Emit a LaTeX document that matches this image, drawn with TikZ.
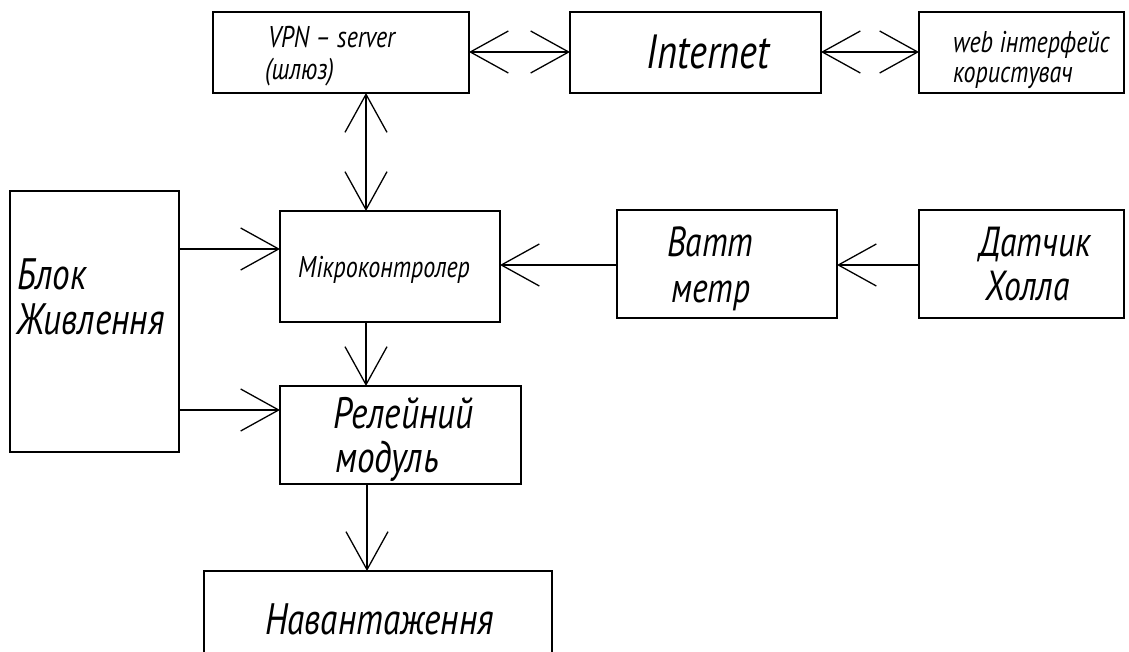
\documentclass[tikz,border=0pt]{standalone}
\usepackage{fontspec}
\newfontfamily\gost{PT Sans}[FakeStretch=0.8]
\usetikzlibrary{arrows.meta}
\begin{document}
\begin{tikzpicture}[x=1pt,y=-1pt,
  blk/.style={draw, line width=1.3pt, inner sep=0pt, outer sep=0pt, anchor=north west},
  lbl/.style={inner sep=0pt, anchor=base west, font=\gost\itshape},
  barb/.tip={Straight Barb[length=38pt,width=42pt,line width=1.3pt]},
  link/.style={line width=1.3pt, -barb},
  dlink/.style={line width=1.3pt, barb-barb}]
\useasboundingbox (0,0) rectangle (1129,652);
\clip (0,0) rectangle (1129,652);
\fill[white] (0,0) rectangle (1129,652);

% blocks
\node[blk, minimum width=256pt, minimum height=81pt]  (vpn)   at (213,12)  {};
\node[blk, minimum width=251pt, minimum height=81pt]  (inet)  at (570,12)  {};
\node[blk, minimum width=205pt, minimum height=81pt]  (web)   at (919,12)  {};
\node[blk, minimum width=169pt, minimum height=261pt] (power) at (10,191)  {};
\node[blk, minimum width=220pt, minimum height=111pt] (mcu)   at (280,211) {};
\node[blk, minimum width=220pt, minimum height=108pt] (watt)  at (617,210) {};
\node[blk, minimum width=205pt, minimum height=108pt] (hall)  at (919,210) {};
\node[blk, minimum width=241pt, minimum height=98pt]  (relay) at (280,386) {};
\node[blk, minimum width=348pt, minimum height=95pt]  (load)  at (204,571) {};

% labels
\node[lbl, font=\gost\itshape\fontsize{30}{31}\selectfont] (tvpn1) at (268,48) {VPN – server};
\node[lbl, font=\gost\itshape\fontsize{30}{31}\selectfont] (tvpn2) at (265,80) {(шлюз)};
\node[lbl, anchor=base, font=\gost\itshape\fontsize{48}{50}\selectfont] (tinet) at (708,69) {Internet};
\node[lbl, font=\gost\itshape\fontsize{30}{31}\selectfont] (tweb1) at (953,53) {web інтерфейс};
\node[lbl, font=\gost\itshape\fontsize{30}{31}\selectfont] (tweb2) at (953,83) {користувач};
\node[lbl, font=\gost\itshape\fontsize{44}{46}\selectfont] (tpow1) at (17,290) {Блок};
\node[lbl, font=\gost\itshape\fontsize{44}{46}\selectfont] (tpow2) at (17,334) {Живлення};
\node[lbl, font=\gost\itshape\fontsize{30}{31}\selectfont] (tmcu) at (298,277) {Мікроконтролер};
\node[lbl, font=\gost\itshape\fontsize{42}{44}\selectfont] (twat1) at (667,257) {Ватт};
\node[lbl, font=\gost\itshape\fontsize{42}{44}\selectfont] (twat2) at (671,302) {метр};
\node[lbl, font=\gost\itshape\fontsize{42}{44}\selectfont] (thal1) at (979,257) {Датчик};
\node[lbl, font=\gost\itshape\fontsize{42}{44}\selectfont] (thal2) at (985,300) {Холла};
\node[lbl, font=\gost\itshape\fontsize{44}{46}\selectfont] (trel1) at (333,428) {Релейний};
\node[lbl, font=\gost\itshape\fontsize{44}{46}\selectfont] (trel2) at (335,472) {модуль};
\node[lbl, font=\gost\itshape\fontsize{44}{46}\selectfont] (tload) at (265,634) {Навантаження};

% guide coordinates for the connector lines
\coordinate (top)  at (0,52);
\coordinate (vx)   at (366,0);
\coordinate (rx)   at (367,0);
\coordinate (p1)   at (0,249);
\coordinate (p2)   at (0,410);
\coordinate (mid)  at (0,265);

% connectors
\draw[dlink] (vpn.east |- top) -- (inet.west |- top);
\draw[dlink] (inet.east |- top) -- (web.west |- top);
\draw[dlink] (vpn.south -| vx) -- (mcu.north -| vx);
\draw[link] (power.east |- p1) -- (mcu.west |- p1);
\draw[link] (power.east |- p2) -- (relay.west |- p2);
\draw[link] (mcu.south -| vx) -- (relay.north -| vx);
\draw[link] (watt.west |- mid) -- (mcu.east |- mid);
\draw[link] (hall.west |- mid) -- (watt.east |- mid);
\draw[link] (relay.south -| rx) -- (load.north -| rx);
\end{tikzpicture}
\end{document}
